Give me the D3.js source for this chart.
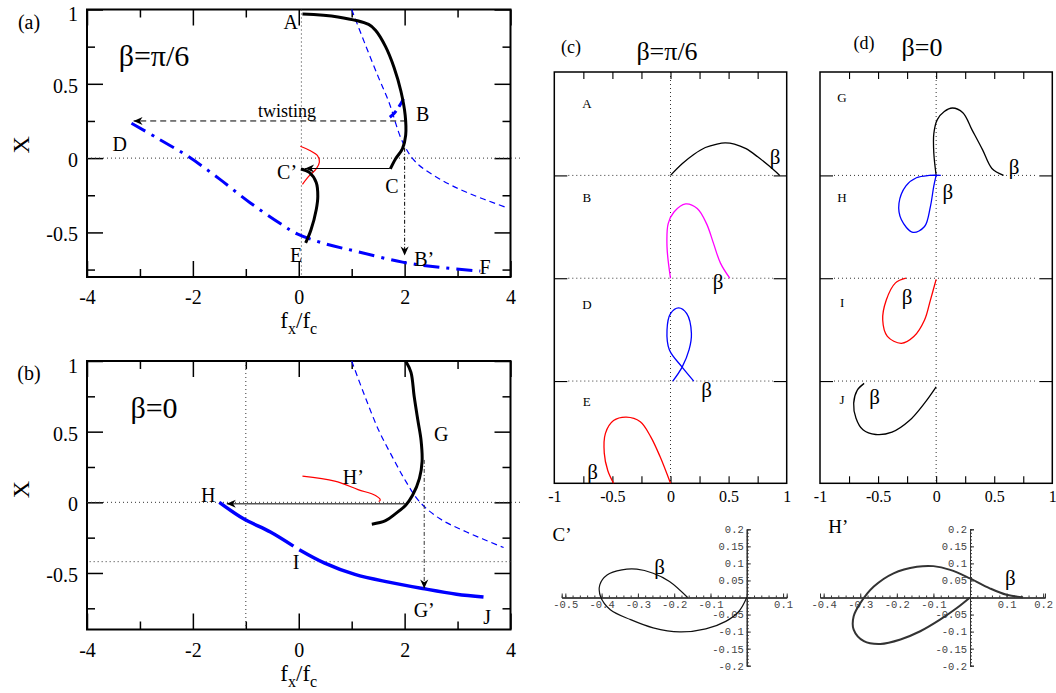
<!DOCTYPE html>
<html>
<head>
<meta charset="utf-8">
<script src="https://cdn.jsdelivr.net/npm/d3@7"></script>
<style>
  body { margin: 0; background: #fff; }
  text { font-family: "Liberation Serif", "DejaVu Serif", serif; }
</style>
</head>
<body>
<div id="fig"></div>
<script>
// ---------- data ----------
const xTicksAB = [-4, -2, 0, 2, 4];
const xMinorAB = [-3, -1, 1, 3];
const yTicksAB = [-0.5, 0, 0.5, 1];
const yMinorAB = [-0.75, -0.25, 0.25, 0.75];

// panel (a), beta = pi/6
const aABC = [[0.07,0.97],[0.74,0.95],[1.32,0.90],[1.45,0.86],[1.64,0.75],[1.80,0.61],[1.93,0.45],[2.01,0.29],[2.02,0.155],[1.96,0.064],[1.83,-0.005],[1.73,-0.073]];
const aCE = [[0.04,-0.073],[0.20,-0.096],[0.33,-0.164],[0.36,-0.256],[0.33,-0.347],[0.23,-0.484],[0.13,-0.571]];
const aRed = [[0.03,0.08],[0.20,0.053],[0.36,0.014],[0.39,-0.027],[0.33,-0.073],[0.20,-0.118],[0.07,-0.176]];
const aBlueDash = [[1.0,1.0],[1.25,0.77],[1.51,0.54],[1.70,0.38],[1.96,0.11],[2.21,-0.027],[2.66,-0.14],[3.17,-0.23],[3.94,-0.335]];
const aBlueB = [[1.72,0.275],[1.8,0.30],[1.9,0.35],[2.01,0.42]];
const aDF = [[-3.16,0.235],[-2.65,0.13],[-2.07,0.007],[-1.50,-0.14],[-0.92,-0.30],[-0.35,-0.44],[-0.03,-0.51],[0.49,-0.575],[1.12,-0.63],[1.96,-0.70],[2.66,-0.735],[3.43,-0.76]];
const aTwist = [[2.03,0.25],[-3.12,0.25]];
const aCtoC = [[1.72,-0.07],[0.12,-0.07]];
const aBtoB = [[2.0,0.13],[2.0,-0.655]];
const aLabels = [["A",-0.15,0.914],["B",2.34,0.30],["C\u2019",-0.22,-0.095],["C",1.76,-0.19],["D",-3.38,0.093],["E",-0.05,-0.65],["B\u2019",2.37,-0.68],["F",3.52,-0.73]];

// panel (b), beta = 0
const bG = [[2.02,1.0],[2.12,0.92],[2.18,0.75],[2.25,0.58],[2.31,0.44],[2.33,0.29],[2.28,0.17],[2.15,0.05],[2.02,-0.02],[1.83,-0.08],[1.64,-0.13],[1.38,-0.155]];
const bRed = [[0.07,0.185],[0.68,0.15],[1.12,0.09],[1.45,0.048],[1.54,0.017],[1.51,0.005]];
const bBlueDash = [[1.0,1.0],[1.25,0.75],[1.51,0.51],[1.77,0.32],[2.02,0.15],[2.28,0.005],[2.66,-0.115],[3.17,-0.21],[3.87,-0.32]];
const bHJ = [[-1.50,0],[-1.05,-0.115],[-0.535,-0.21],[-0.10,-0.31],null,[0.01,-0.335],[0.49,-0.43],[1.06,-0.51],[1.70,-0.565],[2.34,-0.61],[2.98,-0.65],[3.49,-0.67]];
const bGtoH = [[2.01,-0.01],[-1.36,-0.01]];
const bGtoG = [[2.37,0.30],[2.37,-0.61]];
const bLabels = [["G",2.69,0.48],["H\u2019",1.03,0.18],["H",-1.71,0.05],["I",-0.05,-0.42],["G\u2019",2.37,-0.76],["J",3.56,-0.81]];

// panels (c) and (d): stacked rows, curve points are [x, height above/below row line]
const xTicksCD = [-1, -0.5, 0, 0.5, 1];
const xMinorCD = [-0.75, -0.5, -0.25, 0, 0.25, 0.5, 0.75];
const rowLines = [0.88, 1.765, 2.65];
const cA = [[0,0],[0.1,0.1],[0.2,0.18],[0.3,0.24],[0.4,0.27],[0.47,0.28],[0.55,0.27],[0.65,0.23],[0.75,0.16],[0.85,0.08],[0.94,0]];
const cB = [[0,0],[-0.03,0.27],[-0.02,0.47],[0.03,0.57],[0.13,0.64],[0.23,0.60],[0.31,0.47],[0.37,0.30],[0.43,0.13],[0.51,0]];
const cD = [[0.02,0],[0.10,0.12],[0.16,0.27],[0.18,0.41],[0.14,0.58],[0.07,0.63],[0.0,0.58],[-0.03,0.44],[-0.01,0.27],[0.10,0.12],[0.20,0]];
const cE = [[0,0],[-0.09,0.23],[-0.17,0.40],[-0.26,0.53],[-0.38,0.57],[-0.49,0.54],[-0.56,0.43],[-0.57,0.26],[-0.54,0.11],[-0.49,0]];
const dG = [[0,0],[-0.02,0.19],[-0.02,0.36],[0.01,0.48],[0.07,0.55],[0.14,0.58],[0.23,0.54],[0.31,0.39],[0.40,0.22],[0.48,0.06],[0.58,0]];
const dH = [[0.04,0],[-0.06,0],[-0.17,-0.02],[-0.26,-0.09],[-0.32,-0.24],[-0.30,-0.38],[-0.20,-0.49],[-0.10,-0.44],[-0.05,-0.27],[-0.02,-0.09],[0,0]];
const dI = [[-0.26,0],[-0.35,-0.04],[-0.43,-0.19],[-0.46,-0.36],[-0.42,-0.50],[-0.30,-0.56],[-0.19,-0.50],[-0.10,-0.36],[-0.05,-0.19],[0,-0.01]];
const dJ = [[-0.62,-0.02],[-0.68,-0.08],[-0.71,-0.19],[-0.69,-0.32],[-0.63,-0.42],[-0.52,-0.46],[-0.38,-0.44],[-0.23,-0.34],[-0.10,-0.19],[0,-0.05]];
const cRowLabels = [["A",-0.72,3.27],["B",-0.72,2.46],["D",-0.72,1.54],["E",-0.72,0.70]];
const dRowLabels = [["G",-0.81,3.32],["H",-0.81,2.46],["I",-0.81,1.56],["J",-0.81,0.72]];
const cBetas = [[0.90,2.81],[0.41,1.73],[0.31,0.80],[-0.67,0.10]];
const dBetas = [[0.67,2.72],[0.10,2.51],[-0.25,1.60],[-0.53,0.74]];

// insets C' and H'
const cPrime = [[0,0],[-0.022,-0.041],[-0.058,-0.070],[-0.113,-0.092],[-0.185,-0.101],[-0.258,-0.089],[-0.32,-0.065],[-0.376,-0.036],[-0.403,0.003],[-0.405,0.037],[-0.385,0.066],[-0.344,0.081],[-0.303,0.083],[-0.258,0.071],[-0.213,0.047],[-0.163,0]];
const hPrime = [[0,0],[-0.036,-0.031],[-0.082,-0.065],[-0.136,-0.099],[-0.19,-0.123],[-0.245,-0.136],[-0.29,-0.128],[-0.318,-0.094],[-0.318,-0.055],[-0.30,-0.017],[-0.263,0.032],[-0.209,0.071],[-0.145,0.090],[-0.10,0.092],[-0.054,0.081],[0,0.056],[0.054,0.027],[0.10,0.008],[0.145,0.001]];
const cPrimeXLabels = [-0.5,-0.4,-0.3,-0.2,-0.1,0.1];
const hPrimeXLabels = [-0.4,-0.3,-0.2,-0.1,0.1,0.2];
const insetYLabels = [0.2,0.15,0.1,0.05,-0.05,-0.1,-0.15,-0.2];

// ---------- drawing ----------
const svg = d3.select("#fig").append("svg").attr("width", 1056).attr("height", 693);

svg.append("defs").append("marker")
  .attr("id", "arr").attr("viewBox", "0 0 10 10")
  .attr("refX", 10).attr("refY", 5)
  .attr("markerWidth", 10).attr("markerHeight", 9)
  .attr("markerUnits", "userSpaceOnUse").attr("orient", "auto")
  .append("path").attr("d", "M0,0.5 L10,5 L0,9.5 L3,5 Z").attr("fill", "#000");

function lineFor(x, y, curve) {
  return d3.line().defined(d => d !== null)
    .x(d => x(d[0])).y(d => y(d[1]))
    .curve(curve || d3.curveCatmullRom);
}

function path(g, data, line, color, width, dash) {
  return g.append("path").datum(data).attr("d", line)
    .attr("fill", "none").attr("stroke", color).attr("stroke-width", width)
    .attr("stroke-dasharray", dash || null)
    .attr("stroke-linejoin", "round");
}

function labels(g, data, x, y, size) {
  g.selectAll(null).data(data).enter().append("text")
    .attr("x", d => x(d[1])).attr("y", d => y(d[2]))
    .attr("text-anchor", "middle").attr("dominant-baseline", "central")
    .attr("font-size", size).text(d => d[0]);
}

// grace style frame with inward ticks on all sides
function frame(g, x, y, xMaj, xMin, yMaj, yMin, big, small, sw) {
  const [x0, x1] = x.range(), [y0, y1] = y.range();
  const axes = [
    [d3.axisBottom, `translate(0,${y0})`, x, xMaj, xMin],
    [d3.axisTop, `translate(0,${y1})`, x, xMaj, xMin],
    [d3.axisLeft, `translate(${x0},0)`, y, yMaj, yMin],
    [d3.axisRight, `translate(${x1},0)`, y, yMaj, yMin]
  ];
  axes.forEach(a => {
    g.append("g").attr("transform", a[1])
      .call(a[0](a[2]).tickValues(a[3]).tickSize(-big).tickFormat(""));
    g.append("g").attr("transform", a[1])
      .call(a[0](a[2]).tickValues(a[4]).tickSize(-small).tickFormat(""));
  });
  g.selectAll(".domain").remove();
  g.selectAll(".tick line").attr("stroke", "#000").attr("stroke-width", sw * 0.75);
  g.append("rect").attr("x", x0).attr("y", y1)
    .attr("width", x1 - x0).attr("height", y0 - y1)
    .attr("fill", "none").attr("stroke", "#000").attr("stroke-width", sw);
}

function dotted(g, x1, y1, x2, y2) {
  g.append("line").attr("x1", x1).attr("y1", y1).attr("x2", x2).attr("y2", y2)
    .attr("stroke", "#333").attr("stroke-width", 1).attr("stroke-dasharray", "1,3");
}

function panelAB(top, bottom, yMin, tag, beta) {
  const g = svg.append("g");
  const x = d3.scaleLinear().domain([-4, 4]).range([87, 510.5]);
  const y = d3.scaleLinear().domain([yMin, 1]).range([bottom, top]);
  frame(g, x, y, xTicksAB, xMinorAB, yTicksAB, yMinorAB, 16, 8, 2);
  // tick labels
  g.append("g").attr("transform", `translate(0,${bottom})`)
    .call(d3.axisBottom(x).tickValues(xTicksAB).tickSize(0).tickPadding(13).tickFormat(d => String(d)))
    .call(s => s.select(".domain").remove())
    .selectAll("text").attr("font-size", 20).attr("fill", "#000");
  g.append("g").attr("transform", `translate(87,0)`)
    .call(d3.axisLeft(y).tickValues(yTicksAB).tickSize(0).tickPadding(9).tickFormat(d => String(d)))
    .call(s => s.select(".domain").remove())
    .selectAll("text").attr("font-size", 20).attr("fill", "#000")
    .attr("dy", d => d === 1 ? "0.55em" : "0.42em");
  // axis titles
  g.append("text").attr("transform", `translate(21,${y(0.09)}) rotate(-90)`)
    .attr("text-anchor", "middle").attr("dominant-baseline", "central")
    .attr("font-size", 24).text("X");
  const t = g.append("text").attr("x", x(0)).attr("y", bottom + 51)
    .attr("text-anchor", "middle").attr("font-size", 23);
  t.append("tspan").text("f");
  t.append("tspan").attr("dy", 6).attr("font-size", 16).text("x");
  t.append("tspan").attr("dy", -6).text("/f");
  t.append("tspan").attr("dy", 6).attr("font-size", 16).text("c");
  g.append("text").attr("x", 29).attr("y", top + 12).attr("text-anchor", "middle")
    .attr("dominant-baseline", "central").attr("font-size", 20).text(tag);
  g.append("text").attr("x", 154).attr("y", top + 46).attr("text-anchor", "middle")
    .attr("dominant-baseline", "central").attr("font-size", 30).text(beta);
  return { g, x, y };
}

// ----- (a)
(function () {
  const { g, x, y } = panelAB(9.5, 277, -0.8, "(a)", "\u03b2=\u03c0/6");
  dotted(g, x(0.05), y(1), x(0.05), y(-0.8));
  dotted(g, x(-4), y(0), x(4.18), y(0));
  const L = lineFor(x, y), S = lineFor(x, y, d3.curveLinear);
  path(g, aBlueDash, L, "#0000ff", 1.2, "6,4");
  path(g, aDF, L, "#0000ff", 3, "16,7,3,7");
  path(g, aBlueB, L, "#0000ff", 3, "9,5");
  path(g, aRed, L, "#ff0000", 1.2);
  path(g, aABC, L, "#000", 3);
  path(g, aCE, L, "#000", 3);
  path(g, aTwist, S, "#000", 1, "6,4").attr("marker-end", "url(#arr)");
  path(g, aCtoC, S, "#000", 1).attr("marker-end", "url(#arr)");
  path(g, aBtoB, S, "#000", 1, "4,2,1,2").attr("marker-end", "url(#arr)");
  labels(g, aLabels, x, y, 20);
  g.append("text").attr("x", x(-0.22)).attr("y", y(0.32)).attr("text-anchor", "middle")
    .attr("dominant-baseline", "central").attr("font-size", 18).text("twisting");
})();

// ----- (b)
(function () {
  const { g, x, y } = panelAB(361, 629.5, -0.9, "(b)", "\u03b2=0");
  dotted(g, x(-1), y(1), x(-1), y(-0.9));
  dotted(g, x(-4), y(0), x(4.18), y(0));
  dotted(g, x(-3.95), y(-0.42), x(4.06), y(-0.42));
  const L = lineFor(x, y), S = lineFor(x, y, d3.curveLinear);
  path(g, bBlueDash, L, "#0000ff", 1.2, "6,4");
  path(g, bHJ, L, "#0000ff", 3.5);
  path(g, bRed, L, "#ff0000", 1.2);
  path(g, bGtoH, S, "#555", 1.5).attr("marker-end", "url(#arr)");
  path(g, bG, L, "#000", 3);
  path(g, bGtoG, S, "#333", 1, "4,2,1,2").attr("marker-end", "url(#arr)");
  labels(g, bLabels, x, y, 20);
})();

// ----- (c) and (d)
function panelCD(left, right, tag, beta, tagX, betaX, titleY, curves, rowLab, betas, dashRight) {
  const g = svg.append("g");
  const x = d3.scaleLinear().domain([-1, 1]).range([left, right]);
  const y = d3.scaleLinear().domain([0, 3.54]).range([483.3, 72]);
  // dotted guides
  dotted(g, x(0), y(3.54), x(0), y(0));
  rowLines.forEach(v => dotted(g, left + 14, y(v), dashRight, y(v)));
  frame(g, x, y, [], xMinorCD, rowLines, [], 13, 7, 1.5);
  g.append("g").attr("transform", "translate(0,483.3)")
    .call(d3.axisBottom(x).tickValues(xTicksCD).tickSize(0).tickPadding(7).tickFormat(d => String(d)))
    .call(s => s.select(".domain").remove())
    .selectAll("text").attr("font-size", 16).attr("fill", "#000");
  curves.forEach(c => {
    const L = d3.line().x(d => x(d[0])).y(d => y(c.base + d[1])).curve(d3.curveCatmullRom);
    path(g, c.pts, L, c.color, 1.3);
  });
  g.selectAll(null).data(rowLab).enter().append("text")
    .attr("x", d => x(d[1])).attr("y", d => y(d[2]))
    .attr("text-anchor", "middle").attr("dominant-baseline", "central")
    .attr("font-size", 13).text(d => d[0]);
  g.selectAll(null).data(betas).enter().append("text")
    .attr("x", d => x(d[0])).attr("y", d => y(d[1]))
    .attr("text-anchor", "middle").attr("dominant-baseline", "central")
    .attr("font-size", 21).text("\u03b2");
  g.append("text").attr("x", tagX).attr("y", titleY).attr("text-anchor", "middle")
    .attr("dominant-baseline", "central").attr("font-size", 18).text(tag);
  g.append("text").attr("x", betaX).attr("y", titleY + 4).attr("text-anchor", "middle")
    .attr("dominant-baseline", "central").attr("font-size", 26).text(beta);
}

panelCD(554.3, 786.7, "(c)", "\u03b2=\u03c0/6", 571, 667, 47,
  [{ pts: cA, base: rowLines[2], color: "#000" },
   { pts: cB, base: rowLines[1], color: "#ff00ff" },
   { pts: cD, base: rowLines[0], color: "#0000ff" },
   { pts: cE, base: 0, color: "#ff0000" }],
  cRowLabels, cBetas, 773);

panelCD(820, 1052.3, "(d)", "\u03b2=0", 864, 922, 43,
  [{ pts: dG, base: rowLines[2], color: "#000" },
   { pts: dH, base: rowLines[2], color: "#0000ff" },
   { pts: dI, base: rowLines[1], color: "#ff0000" },
   { pts: dJ, base: rowLines[0], color: "#000" }],
  dRowLabels, dBetas, 1038);

// ----- insets (Mathematica style axes through the origin)
function inset(xDom, xRange, xLab, data, width, color, name, nameXY, betaXY) {
  const g = svg.append("g");
  const x = d3.scaleLinear().domain(xDom).range(xRange);
  const y = d3.scaleLinear().domain([-0.2, 0.2]).range([665.7, 529.3]);
  const xMinor = d3.range(Math.ceil(xDom[0] * 50), Math.floor(xDom[1] * 50) + 1).map(v => v / 50);
  const yMinor = d3.range(-20, 21).map(v => v / 100);
  const xMajor = d3.range(Math.ceil(xDom[0] * 10), Math.floor(xDom[1] * 10) + 1).map(v => v / 10);
  const yMajor = d3.range(-4, 5).map(v => v / 20);
  const ax = g.append("g").attr("transform", `translate(0,${y(0)})`);
  ax.append("g").call(d3.axisTop(x).tickValues(xMinor).tickSize(2).tickFormat(""));
  ax.append("g").call(d3.axisTop(x).tickValues(xMajor).tickSize(4).tickFormat(""));
  ax.append("g").call(d3.axisBottom(x).tickValues(xLab).tickSize(0).tickPadding(3).tickFormat(d => String(d)));
  const ay = g.append("g").attr("transform", `translate(${x(0)},0)`);
  ay.append("g").call(d3.axisRight(y).tickValues(yMinor).tickSize(2).tickFormat(""));
  ay.append("g").call(d3.axisRight(y).tickValues(yMajor).tickSize(4).tickFormat(""));
  ay.append("g").call(d3.axisLeft(y).tickValues(insetYLabels).tickSize(0).tickPadding(3).tickFormat(d => String(d)));
  g.selectAll(".domain").attr("stroke", "#333");
  g.selectAll(".tick line").attr("stroke", "#333");
  g.selectAll(".tick text").style("font-family", "'Liberation Mono', monospace").attr("font-size", 10.5).attr("fill", "#444");
  path(g, data, lineFor(x, y), color, width);
  g.append("text").attr("x", x(nameXY[0])).attr("y", y(nameXY[1])).attr("text-anchor", "middle")
    .attr("dominant-baseline", "central").attr("font-size", 19).text(name);
  g.append("text").attr("x", x(betaXY[0])).attr("y", y(betaXY[1])).attr("text-anchor", "middle")
    .attr("dominant-baseline", "central").attr("font-size", 21).text("\u03b2");
}

inset([-0.51, 0.11], [561.7, 786.7], cPrimeXLabels, cPrime, 1.2, "#111", "C\u2019", [-0.509, 0.186], [-0.24, 0.089]);
inset([-0.41, 0.205], [820, 1045], hPrimeXLabels, hPrime, 2, "#333", "H\u2019", [-0.36, 0.207], [0.11, 0.057]);
</script>
</body>
</html>
